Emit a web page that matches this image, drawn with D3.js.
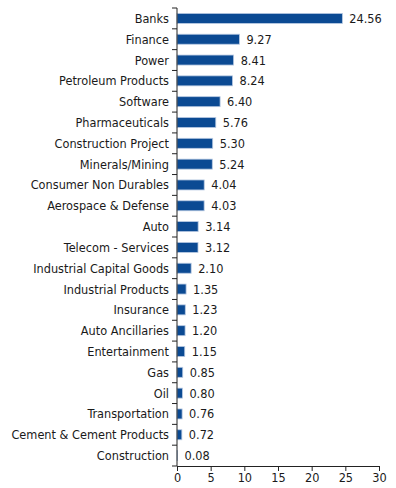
<!DOCTYPE html>
<html>
<head>
<meta charset="utf-8">
<script src="https://cdn.jsdelivr.net/npm/d3@7"></script>
<style>
  body { margin: 0; background: #fff; }
  svg text { font-family: "DejaVu Sans Condensed", "Liberation Sans Narrow", sans-serif; fill: #1a1a1a; }
</style>
</head>
<body>
<svg width="396" height="488"></svg>
<script>
var sectors = ["Banks", "Finance", "Power", "Petroleum Products", "Software", "Pharmaceuticals",
    "Construction Project", "Minerals/Mining", "Consumer Non Durables", "Aerospace & Defense",
    "Auto", "Telecom - Services", "Industrial Capital Goods", "Industrial Products", "Insurance",
    "Auto Ancillaries", "Entertainment", "Gas", "Oil", "Transportation", "Cement & Cement Products",
    "Construction"];
var weights = [24.56, 9.27, 8.41, 8.24, 6.40, 5.76, 5.30, 5.24, 4.04, 4.03, 3.14, 3.12, 2.10,
    1.35, 1.23, 1.20, 1.15, 0.85, 0.80, 0.76, 0.72, 0.08];
var xTicks = [0, 5, 10, 15, 20, 25, 30];

var svg = d3.select("svg");
var margin = {top: 8, right: 17, bottom: 22, left: 177};
var width = 396 - margin.left - margin.right,
    height = 488 - margin.top - margin.bottom;
var fontSize = "12.6px";

var g = svg.append("g").attr("transform", "translate(" + margin.left + "," + margin.top + ")");

var x = d3.scaleLinear().domain([0, 30]).range([0, width]);
var y = d3.scaleBand().domain(sectors).range([0, height]).paddingInner(0.52).paddingOuter(0.26);

var step = y.step();

// bars
g.selectAll("rect.bar")
    .data(weights)
    .enter().append("rect")
    .attr("class", "bar")
    .attr("x", 0)
    .attr("y", function (d, i) { return y(sectors[i]); })
    .attr("width", function (d) { return x(d); })
    .attr("height", y.bandwidth())
    .attr("fill", "#0b4a93")
    .attr("stroke", "#b7c9e2")
    .attr("stroke-width", 0.8);

// value labels
g.selectAll("text.val")
    .data(weights)
    .enter().append("text")
    .attr("class", "val")
    .attr("x", function (d) { return x(d) + 7; })
    .attr("y", function (d, i) { return y(sectors[i]) + y.bandwidth() / 2; })
    .attr("dy", "0.36em")
    .attr("font-size", fontSize)
    .text(function (d) { return d.toFixed(2); });

// category labels
g.selectAll("text.cat")
    .data(sectors)
    .enter().append("text")
    .attr("class", "cat")
    .attr("x", -8)
    .attr("y", function (d) { return y(d) + y.bandwidth() / 2; })
    .attr("dy", "0.36em")
    .attr("text-anchor", "end")
    .attr("font-size", fontSize)
    .text(function (d) { return d; });

// left axis line with boundary ticks
var yAxis = g.append("g").attr("class", "yaxis");
yAxis.append("line")
    .attr("x1", 0).attr("x2", 0).attr("y1", 0).attr("y2", height)
    .attr("stroke", "#222").attr("stroke-width", 1);
var bounds = d3.range(sectors.length + 1).map(function (i) { return i * step; });
yAxis.selectAll("line.tick")
    .data(bounds)
    .enter().append("line")
    .attr("class", "tick")
    .attr("x1", -5).attr("x2", 0)
    .attr("y1", function (d) { return d; })
    .attr("y2", function (d) { return d; })
    .attr("stroke", "#222");

// bottom axis
var xAxis = g.append("g")
    .attr("transform", "translate(0," + height + ")")
    .call(d3.axisBottom(x).tickValues(xTicks).tickSize(5).tickSizeOuter(0).tickFormat(d3.format("d")));
xAxis.select(".domain").attr("stroke", "#222");
xAxis.selectAll(".tick line").attr("stroke", "#222");
xAxis.selectAll(".tick text")
    .attr("font-size", fontSize)
    .attr("font-family", "DejaVu Sans Condensed, sans-serif")
    .attr("fill", "#1a1a1a")
    .attr("y", 7);
</script>
</body>
</html>
